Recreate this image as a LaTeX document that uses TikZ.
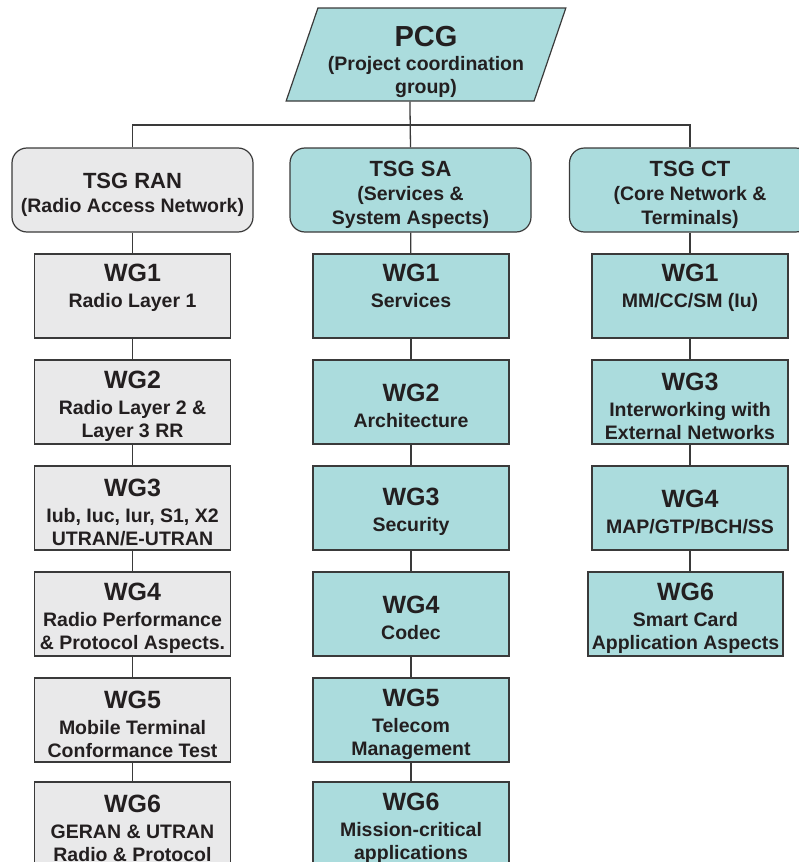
\documentclass[tikz,border=0pt]{standalone}
\usepackage{fontspec}
\setmainfont{Liberation Sans}
\usepackage{tikz}
\usetikzlibrary{shapes.geometric}
\definecolor{sateal}{RGB}{171,220,221}
\definecolor{rangray}{RGB}{233,233,234}
\definecolor{edgegray}{RGB}{58,58,58}
\definecolor{textdark}{RGB}{35,31,32}
\newcommand{\pcgtitle}[1]{{\fontsize{29}{29}\selectfont\rule{0pt}{35pt}#1}}
\newcommand{\tsgtitle}[1]{{\fontsize{22}{22}\selectfont\rule{0pt}{25pt}#1}}
\newcommand{\wgtitle}[1]{{\fontsize{25}{25}\selectfont\rule{0pt}{26pt}#1}}

\begin{document}
\begin{tikzpicture}[x=1pt, y=-1pt,
          pcg/.style={trapezium, trapezium left angle=71.6, trapezium right angle=108.4,
            trapezium stretches=true, draw=edgegray, line width=1.2pt, fill=sateal,
            minimum width=280pt, minimum height=93pt, inner sep=0pt, align=center,
            text=textdark, font=\bfseries\fontsize{19.5}{23.5}\selectfont},
          tsg/.style={rectangle, rounded corners=15pt, draw=edgegray, line width=1.2pt,
            minimum width=241pt, minimum height=84pt, align=center,
            text=textdark, font=\bfseries\fontsize{19.5}{23.5}\selectfont},
          wg/.style={rectangle, draw=edgegray, line width=1.2pt,
            minimum width=196pt, minimum height=84pt, inner sep=0pt, align=center,
            text=textdark, font=\bfseries\fontsize{19.5}{23.5}\selectfont},
          ran/.style={fill=rangray},
          sa/.style={fill=sateal},
          link/.style={draw=edgegray, line width=1.3pt}]

          \useasboundingbox (0,0) rectangle (799,862);

          % Top of the tree
          \node[pcg] (pcg) at (426,54.5) {\pcgtitle{PCG}\\[0.5pt](Project coordination\\group)};
          \coordinate (bus) at (411,125);

          % TSGs
          \node[tsg, ran] (tsgran) at (132.5,190) {\tsgtitle{TSG RAN}\\[0.5pt](Radio Access Network)};
          \node[tsg, sa] (tsgsa) at (410.5,190) {\tsgtitle{TSG SA}\\[0.5pt](Services \&\\System Aspects)};
          \node[tsg, sa] (tsgct) at (690,190) {\tsgtitle{TSG CT}\\[0.5pt](Core Network \&\\Terminals)};

          % RAN working groups
          \node[wg, ran] (ran1) at (132.5,296) {\wgtitle{WG1}\\[2.5pt]Radio Layer 1\\[6pt]};
          \node[wg, ran] (ran2) at (132.5,402) {\wgtitle{WG2}\\[2.5pt]Radio Layer 2 \&\\Layer 3 RR};
          \node[wg, ran] (ran3) at (132.5,508) {\wgtitle{WG3}\\[2.5pt]Iub, Iuc, Iur, S1, X2\\UTRAN/E-UTRAN};
          \node[wg, ran] (ran4) at (132.5,614) {\wgtitle{WG4}\\[2.5pt]Radio Performance\\\& Protocol Aspects.};
          \node[wg, ran] (ran5) at (132.5,720) {\wgtitle{WG5}\\[2.5pt]Mobile Terminal\\Conformance Test};
          \node[wg, ran] (ran6) at (132.5,824) {\wgtitle{WG6}\\[2.5pt]GERAN \& UTRAN\\Radio \& Protocol};

          % SA working groups
          \node[wg, sa] (sa1) at (411,296) {\wgtitle{WG1}\\[2.5pt]Services\\[6pt]};
          \node[wg, sa] (sa2) at (411,402) {\wgtitle{WG2}\\[2.5pt]Architecture};
          \node[wg, sa] (sa3) at (411,508) {\wgtitle{WG3}\\[2.5pt]Security};
          \node[wg, sa] (sa4) at (411,614) {\wgtitle{WG4}\\[2.5pt]Codec};
          \node[wg, sa] (sa5) at (411,720) {\wgtitle{WG5}\\[2.5pt]Telecom\\Management};
          \node[wg, sa] (sa6) at (411,824) {\wgtitle{WG6}\\[2.5pt]Mission-critical\\applications};

          % CT working groups
          \node[wg, sa] (ct1) at (690,296) {\wgtitle{WG1}\\[2.5pt]MM/CC/SM (Iu)\\[6pt]};
          \node[wg, sa] (ct3) at (690,402) {\wgtitle{WG3}\\[2.5pt]Interworking with\\External Networks};
          \node[wg, sa] (ct4) at (690,508) {\wgtitle{WG4}\\[2.5pt]MAP/GTP/BCH/SS};
          \node[wg, sa, minimum width=195pt] (ct6) at (685.5,614) {\wgtitle{WG6}\\[2.5pt]Smart Card\\Application Aspects};

          % Tree lines
          \draw[link] (pcg.bottom side) -- (tsgsa.north);
          \draw[link] (tsgran.north) |- (bus) -| (tsgct.north);

          \draw[link] (tsgran) -- (ran1);
          \draw[link] (ran1) -- (ran2);
          \draw[link] (ran2) -- (ran3);
          \draw[link] (ran3) -- (ran4);
          \draw[link] (ran4) -- (ran5);
          \draw[link] (ran5) -- (ran6);

          \draw[link] (tsgsa) -- (sa1);
          \draw[link] (sa1) -- (sa2);
          \draw[link] (sa2) -- (sa3);
          \draw[link] (sa3) -- (sa4);
          \draw[link] (sa4) -- (sa5);
          \draw[link] (sa5) -- (sa6);

          \draw[link] (tsgct) -- (ct1);
          \draw[link] (ct1) -- (ct3);
          \draw[link] (ct3) -- (ct4);
          \draw[link] (ct4.south) -- (ct4.south |- ct6.north);
        \end{tikzpicture}
\end{document}
